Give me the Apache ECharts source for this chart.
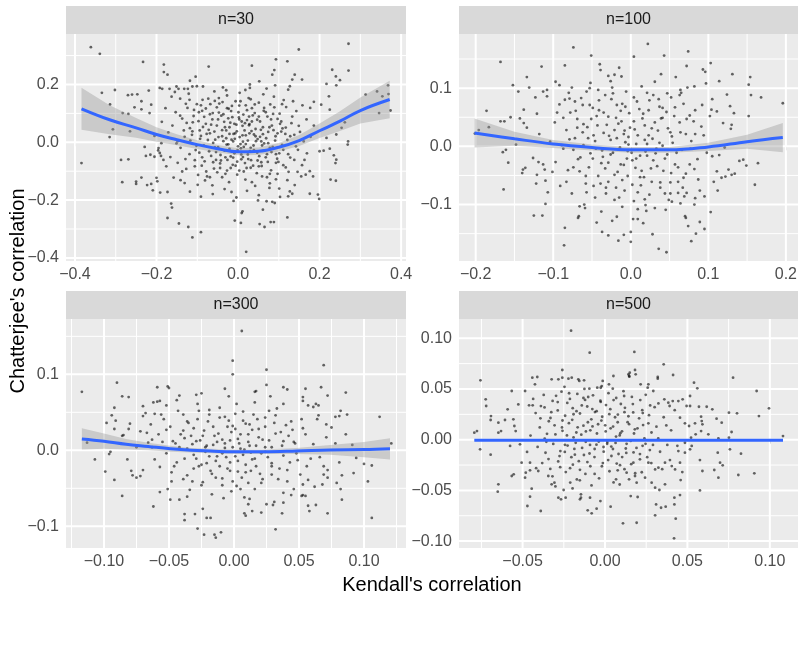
<!DOCTYPE html>
<html>
<head>
<meta charset="utf-8">
<script src="https://cdn.jsdelivr.net/npm/echarts@6/dist/echarts.min.js"></script>
<style>
html, body { margin: 0; padding: 0; background: #ffffff; }
#chart { width: 805px; height: 650px; }
</style>
</head>
<body>
<div id="chart"></div>
<script>
// facet titles
var facetNames = ['n=30', 'n=100', 'n=300', 'n=500'];

// points: [Kendall, Chatterjee]
var pts30 = [
  [-0.361,0.329],[-0.339,0.306],[-0.233,0.278],[-0.182,0.269],[-0.182,0.243],[-0.173,0.234],[-0.072,0.262],[-0.104,0.227],[-0.118,0.213],[-0.334,0.171],[-0.302,0.181],[-0.314,0.131],[-0.307,0.045],[-0.315,0.018],[-0.384,-0.072],[-0.287,-0.061],[-0.269,-0.059],[-0.284,-0.138],[-0.250,-0.136],[-0.250,-0.144],[-0.237,-0.122],[-0.223,-0.148],[-0.213,-0.144],[-0.209,-0.166],[-0.270,0.163],[-0.260,0.165],[-0.247,0.166],[-0.237,0.142],[-0.254,0.121],[-0.237,0.114],[-0.219,0.179],[-0.213,0.130],[-0.217,0.101],[-0.283,0.101],[-0.269,0.098],[-0.265,0.038],[-0.229,-0.016],[-0.226,-0.047],[-0.215,-0.043],[-0.205,-0.050],[-0.192,-0.037],[-0.189,-0.047],[-0.195,-0.020],[-0.188,-0.003],[-0.200,-0.123],[-0.198,-0.135],[-0.191,-0.174],[-0.173,-0.172],[-0.164,-0.212],[-0.162,-0.226],[-0.173,-0.262],[-0.145,-0.281],[-0.122,-0.293],[-0.112,-0.329],[-0.091,-0.311],[-0.192,0.188],[-0.186,0.185],[-0.168,0.185],[-0.151,0.193],[-0.146,0.185],[-0.155,0.174],[-0.132,0.185],[-0.123,0.185],[-0.112,0.193],[-0.101,0.194],[-0.086,0.193],[-0.037,0.190],[-0.029,0.180],
  [0.271,0.341],[0.149,0.321],[0.034,0.265],[0.093,0.287],[0.121,0.280],[0.089,0.250],[0.084,0.234],[0.231,0.251],[0.271,0.248],[0.240,0.228],[0.250,0.215],[0.241,0.197],[0.217,0.202],[0.139,0.234],[0.133,0.217],[0.157,0.217],[0.127,0.194],[0.123,0.182],[0.029,0.200],[0.029,0.188],[0.052,0.211],[0.070,0.186],[0.091,0.197],[0.313,0.165],[0.341,0.176],[0.354,0.159],[0.368,0.197],[0.369,0.167],[0.374,0.110],[0.346,0.101],[0.186,0.140],[0.204,0.130],[0.223,0.159],[0.225,0.113],[0.177,0.119],[0.262,0.069],[0.254,0.050],[0.241,0.027],[0.217,0.015],[0.270,0.003],[0.269,-0.008],[0.200,-0.031],[0.210,-0.029],[0.225,-0.022],[0.235,-0.045],[0.241,-0.060],[0.239,-0.072],[0.227,-0.129],[0.240,-0.133],[0.176,-0.178],[0.196,-0.181],[0.199,-0.196],[0.121,-0.260],[0.020,-0.379],[-0.008,-0.271],[0.007,-0.279],[0.011,-0.239],[0.009,-0.245],[0.053,-0.283],[0.065,-0.293],[0.080,-0.276],[0.088,-0.276],[0.061,-0.233],[0.084,-0.206],[0.090,-0.210],[0.070,-0.204],[0.049,-0.201],[0.127,-0.170],[0.123,-0.187],[0.133,-0.178],[0.101,-0.160],[0.176,-0.100],[0.184,-0.118],[0.155,-0.118],[0.166,-0.112],
  [-0.163,0.158],[-0.121,0.168],[-0.087,0.147],[-0.058,0.176],[-0.027,0.162],[0.004,0.171],[0.031,0.149],[0.062,0.166],[0.088,0.158],[0.112,0.146],[-0.142,0.151],[0.018,0.181],[-0.047,0.153],
  [-0.178,0.118],[-0.153,0.104],[-0.128,0.133],[-0.108,0.112],[-0.091,0.128],[-0.069,0.097],[-0.052,0.121],[-0.038,0.139],[-0.017,0.108],[0.003,0.127],[0.013,0.096],[0.034,0.118],[0.051,0.137],[0.063,0.109],[0.079,0.131],[0.102,0.099],[0.118,0.122],[0.143,0.108],[0.158,0.128],[-0.006,0.142],[0.041,0.101],[-0.079,0.117],
  [-0.187,0.071],[-0.161,0.058],[-0.137,0.082],[-0.118,0.049],[-0.097,0.073],[-0.083,0.088],[-0.066,0.061],[-0.049,0.079],[-0.032,0.052],[-0.019,0.068],[0.002,0.086],[0.011,0.057],[0.022,0.077],[0.043,0.046],[0.054,0.072],[0.072,0.089],[0.083,0.058],[0.097,0.081],[0.109,0.048],[0.131,0.066],[0.149,0.057],[0.168,0.079],[-0.041,0.092],[0.028,0.063],[-0.109,0.091],
  [-0.205,0.022],[-0.171,0.034],[-0.148,0.004],[-0.131,0.019],[-0.112,0.038],[-0.093,0.012],[-0.077,0.029],[-0.061,-0.002],[-0.048,0.018],[-0.029,0.041],[-0.016,0.009],[-0.007,0.031],[0.012,0.002],[0.019,0.024],[0.033,0.039],[0.048,0.011],[0.061,0.028],[0.074,-0.003],[0.092,0.021],[0.106,0.037],[0.121,0.008],[0.138,0.026],[0.161,0.003],[0.178,0.019],[0.039,0.027],[-0.072,0.043],
  [-0.196,-0.028],[-0.166,-0.051],[-0.141,-0.019],[-0.119,-0.041],[-0.102,-0.012],[-0.088,-0.052],[-0.071,-0.031],[-0.057,-0.018],[-0.043,-0.044],[-0.028,-0.008],[-0.012,-0.053],[-0.001,-0.027],[0.014,-0.016],[0.024,-0.042],[0.038,-0.011],[0.052,-0.048],[0.063,-0.029],[0.078,-0.019],[0.093,-0.041],[0.108,-0.009],[0.128,-0.053],[0.147,-0.026],[0.169,-0.038],[0.029,-0.031],[-0.021,-0.023],
  [-0.176,-0.083],[-0.148,-0.071],[-0.127,-0.092],[-0.106,-0.062],[-0.089,-0.081],[-0.078,-0.101],[-0.061,-0.069],[-0.044,-0.089],[-0.026,-0.061],[-0.013,-0.078],[0.003,-0.098],[0.017,-0.072],[0.031,-0.088],[0.048,-0.063],[0.058,-0.082],[0.081,-0.097],[0.099,-0.068],[0.117,-0.087],[0.138,-0.061],[0.157,-0.079],[0.008,-0.059],[-0.051,-0.104],
  [-0.158,-0.122],[-0.131,-0.141],[-0.098,-0.113],[-0.081,-0.132],[-0.063,-0.149],[-0.039,-0.121],[-0.022,-0.138],[-0.002,-0.112],[0.018,-0.129],[0.042,-0.151],[0.059,-0.118],[0.078,-0.142],[0.097,-0.109],[0.121,-0.131],[0.139,-0.148],[-0.031,-0.109],[0.046,-0.107],
  [-0.118,-0.171],[-0.091,-0.188],[-0.062,-0.179],[-0.033,-0.162],[-0.004,-0.191],[0.022,-0.168],[0.051,-0.183],[0.077,-0.158],[0.103,-0.189],[-0.011,-0.203],
  [-0.008,0.012],[0.006,-0.006],[-0.036,0.004],[0.057,0.003],[-0.054,-0.061],[0.027,0.089],[-0.023,0.116],[0.068,-0.052],[-0.094,0.041],[0.087,0.042],
  [-0.142,0.092],[-0.126,0.067],[-0.113,0.026],[-0.104,-0.027],[-0.096,0.104],[-0.086,0.053],[-0.082,-0.066],[-0.074,0.008],[-0.068,0.132],[-0.063,0.079],[-0.058,0.037],[-0.054,-0.034],[-0.047,0.103],[-0.044,-0.073],[-0.039,0.021],[-0.034,0.071],[-0.031,-0.052],[-0.027,0.118],[-0.024,-0.007],[-0.021,0.052],[-0.018,-0.089],[-0.014,0.087],[-0.011,0.029],[-0.009,-0.038],[-0.004,0.061],[-0.002,-0.067],[0.001,0.104],[0.004,0.018],[0.007,-0.021],[0.009,0.072],[0.012,-0.051],[0.016,0.041],[0.019,0.128],[0.021,-0.089],[0.024,0.006],[0.027,0.059],[0.032,-0.062],[0.036,0.093],[0.039,-0.027],[0.043,0.021],[0.047,0.078],[0.051,-0.083],[0.056,0.043],[0.059,-0.011],[0.064,0.119],[0.069,0.014],[0.073,-0.068],[0.077,0.052],[0.082,-0.034],[0.086,0.098],[0.091,0.006],[0.096,-0.057],[0.103,0.064],[0.111,-0.026],[0.116,0.029],[0.124,-0.102],[0.133,0.089],[0.142,-0.014],[-0.151,-0.004],[-0.137,-0.101],[-0.119,0.147],[-0.069,-0.121],[-0.016,-0.172],[0.034,-0.138],[0.071,-0.121],[0.108,0.132],[0.152,0.036],[-0.183,-0.061],[0.186,0.058],[-0.057,0.143],[0.026,0.153],[0.093,-0.128],[-0.099,-0.147],[0.163,-0.061],
  [-0.117,0.006],[-0.111,0.069],[-0.106,-0.083],[-0.101,0.132],[-0.095,-0.036],[-0.091,0.022],[-0.088,0.109],[-0.084,-0.011],[-0.079,0.064],[-0.076,-0.118],[-0.073,0.151],[-0.069,0.031],[-0.066,-0.047],[-0.062,0.101],[-0.059,-0.091],[-0.056,0.009],[-0.052,0.058],[-0.049,-0.017],[-0.046,0.134],[-0.042,-0.063],[-0.039,0.042],[-0.036,0.097],[-0.033,-0.029],[-0.029,0.014],[-0.027,-0.098],[-0.024,0.083],[-0.021,0.029],[-0.018,-0.049],[-0.015,0.126],[-0.012,0.003],[-0.009,0.064],[-0.006,-0.081],[-0.003,0.038],[0.000,-0.014],[0.003,0.079],[0.006,0.142],[0.008,-0.042],[0.011,0.024],[0.014,-0.101],[0.017,0.066],[0.019,-0.006],[0.022,0.111],[0.025,-0.058],[0.028,0.031],[0.031,-0.019],[0.034,0.072],[0.037,-0.081],[0.041,0.131],[0.044,0.004],[0.047,-0.036],[0.051,0.089],[0.054,0.019],[0.057,-0.069],[0.061,0.052],[0.064,-0.004],[0.068,0.104],[0.071,-0.041],[0.074,0.036],[0.078,-0.109],[0.081,0.079],[0.085,-0.016],[0.089,0.121],[0.093,-0.071],[0.097,0.031],[0.101,-0.038],[0.106,0.072],[0.111,-0.079],[0.117,0.051],[-0.129,-0.058],[-0.133,0.041],[-0.124,0.119],[0.123,-0.041],[0.128,0.021],[0.135,0.142],[-0.141,-0.131],[0.146,-0.102]
];

var pts100 = [
  [-0.168,0.145],[-0.115,0.137],[-0.074,0.170],[-0.051,0.156],[-0.085,0.139],[-0.134,0.119],[-0.152,0.105],[-0.145,0.094],[-0.131,0.101],[-0.186,0.061],[-0.168,0.043],[-0.163,0.043],[-0.155,0.050],[-0.183,0.033],[-0.196,0.028],[-0.201,0.022],[-0.143,0.048],[-0.138,0.040],[-0.134,0.032],[-0.138,0.063],[-0.123,0.084],[-0.121,0.056],[-0.161,-0.006],[-0.165,-0.010],[-0.158,-0.028],[-0.139,-0.040],[-0.140,-0.046],[-0.136,-0.037],[-0.164,-0.074],[-0.121,-0.049],[-0.122,-0.064],[-0.110,-0.059],[-0.111,-0.040],[-0.126,-0.020],[-0.119,-0.027],[-0.113,-0.031],[-0.110,-0.099],[-0.125,-0.119],[-0.114,-0.119],[-0.085,-0.140],[-0.086,-0.170],[-0.067,-0.120],[-0.068,-0.123],[-0.059,-0.106],[-0.060,-0.100],[-0.037,-0.147],[-0.029,-0.153],[-0.016,-0.162],[-0.009,-0.152],[-0.024,-0.128],[-0.113,0.094],[-0.108,0.086],[-0.108,0.097],[-0.097,0.111],[-0.092,0.105],[-0.040,0.141],[-0.039,0.131],[-0.015,0.135],[-0.021,0.123],[-0.026,0.112],[-0.012,0.120],[-0.053,0.100],[-0.057,0.094],[-0.042,0.097],[-0.080,0.092],[-0.072,0.077],[-0.085,0.080],
  [0.022,0.176],[0.043,0.156],[0.004,0.154],[0.074,0.163],[0.103,0.143],[0.072,0.138],[0.093,0.132],[0.096,0.128],[0.131,0.124],[0.154,0.119],[0.152,0.106],[0.155,0.088],[0.168,0.084],[0.196,0.074],[0.114,0.112],[0.097,0.108],[0.082,0.103],[0.064,0.097],[0.065,0.092],[0.105,0.081],[0.104,0.063],[0.111,0.060],[0.133,0.057],[0.128,0.069],[0.152,0.052],[0.119,0.040],[0.130,0.037],[0.129,0.030],[0.145,-0.023],[0.140,-0.025],[0.164,-0.029],[0.149,-0.033],[0.160,-0.066],[0.134,-0.047],[0.130,-0.049],[0.126,-0.040],[0.117,-0.054],[0.122,-0.052],[0.112,-0.076],[0.105,-0.017],[0.114,-0.015],[0.111,-0.043],[0.103,-0.113],[0.095,-0.086],[0.089,-0.130],[0.095,-0.142],[0.084,-0.150],[0.078,-0.163],[0.074,-0.137],[0.070,-0.120],[0.071,-0.123],[0.046,-0.182],[0.036,-0.176],[0.028,-0.151],[0.016,-0.132],[0.009,-0.125],[0.003,-0.125],[0.000,-0.147],[0.000,-0.164],[0.045,-0.109],[0.020,-0.111],[0.031,-0.106],[0.053,-0.095],[0.049,-0.092],[0.082,-0.100],[0.083,-0.089],[0.072,-0.080],[0.069,-0.086],[0.061,-0.080],
  [-0.092,0.072],[-0.078,0.058],[-0.064,0.083],[-0.049,0.066],[-0.033,0.088],[-0.018,0.071],[-0.006,0.094],[0.008,0.077],[0.021,0.092],[0.037,0.068],[0.052,0.084],[0.068,0.073],[0.083,0.062],[-0.041,0.079],[0.014,0.103],[-0.024,0.101],[0.031,0.111],[0.058,0.119],
  [-0.098,0.041],[-0.083,0.028],[-0.069,0.047],[-0.056,0.033],[-0.044,0.052],[-0.031,0.037],[-0.019,0.049],[-0.008,0.027],[0.004,0.043],[0.016,0.056],[0.027,0.031],[0.039,0.048],[0.051,0.024],[0.063,0.041],[0.076,0.053],[0.091,0.034],[-0.013,0.061],[0.046,0.059],[0.018,0.036],
  [-0.104,0.008],[-0.087,-0.004],[-0.072,0.014],[-0.061,0.002],[-0.048,0.019],[-0.037,-0.007],[-0.026,0.011],[-0.014,-0.002],[-0.003,0.016],[0.007,0.004],[0.019,-0.009],[0.028,0.013],[0.041,0.001],[0.053,0.017],[0.066,-0.006],[0.078,0.009],[0.094,0.019],[-0.052,-0.012],[0.033,-0.004],[-0.009,0.021],
  [-0.097,-0.027],[-0.081,-0.041],[-0.068,-0.022],[-0.054,-0.036],[-0.042,-0.051],[-0.029,-0.028],[-0.017,-0.044],[-0.005,-0.021],[0.006,-0.037],[0.017,-0.053],[0.029,-0.024],[0.042,-0.042],[0.057,-0.031],[0.071,-0.047],[0.086,-0.022],[-0.036,-0.018],[0.012,-0.016],[-0.011,-0.058],[0.047,-0.014],
  [-0.091,-0.068],[-0.076,-0.081],[-0.058,-0.064],[-0.046,-0.088],[-0.032,-0.071],[-0.021,-0.092],[-0.008,-0.076],[0.004,-0.094],[0.013,-0.067],[0.024,-0.083],[0.038,-0.071],[0.051,-0.062],[0.064,-0.098],[-0.066,-0.103],[-0.038,-0.112],[0.009,-0.108],[-0.018,-0.121],
  [-0.003,0.003],[0.001,-0.011],[-0.021,0.028],[0.023,0.019],[-0.062,0.024],[0.061,-0.061],[-0.029,-0.061],[0.036,0.081],[-0.076,0.101],[0.082,-0.039],
  [-0.079,0.012],[-0.071,0.061],[-0.066,-0.043],[-0.061,0.038],[-0.057,-0.079],[-0.053,0.071],[-0.049,-0.021],[-0.046,0.009],[-0.043,0.036],[-0.039,-0.064],[-0.035,0.058],[-0.033,-0.038],[-0.028,0.018],[-0.025,0.081],[-0.023,-0.011],[-0.019,-0.071],[-0.016,0.039],[-0.013,-0.031],[-0.011,0.073],[-0.007,0.007],[-0.004,-0.051],[-0.002,0.057],[0.002,-0.024],[0.005,0.029],[0.009,-0.079],[0.011,0.064],[0.014,-0.042],[0.018,0.011],[0.021,-0.016],[0.024,0.079],[0.027,-0.061],[0.031,0.041],[0.034,-0.034],[0.037,0.006],[0.041,0.066],[0.044,-0.081],[0.048,0.031],[0.052,-0.046],[0.056,0.052],[0.059,-0.011],[0.063,0.088],[0.067,-0.071],[0.071,0.021],[0.076,-0.031],[0.081,0.043],[0.087,-0.057],[0.092,0.071],[-0.087,0.049],[-0.083,-0.061],[-0.074,-0.006],[0.098,-0.011],[-0.101,-0.044],[0.073,0.101],[-0.052,0.109],[0.019,-0.101],[-0.029,0.121],[0.102,0.052],[-0.118,0.021],[0.121,-0.002],[-0.044,-0.131],
  [-0.069,0.032],[-0.065,-0.019],[-0.062,0.071],[-0.058,-0.051],[-0.055,0.014],[-0.051,0.047],[-0.048,-0.068],[-0.045,-0.004],[-0.041,0.062],[-0.038,-0.029],[-0.035,0.023],[-0.032,-0.081],[-0.029,0.051],[-0.026,-0.014],[-0.023,0.091],[-0.021,-0.049],[-0.018,0.014],[-0.015,-0.088],[-0.012,0.043],[-0.009,-0.032],[-0.007,0.068],[-0.004,-0.008],[-0.001,0.032],[0.002,-0.066],[0.004,0.084],[0.007,-0.021],[0.009,0.019],[0.012,-0.053],[0.015,0.048],[0.018,-0.091],[0.021,0.004],[0.023,0.062],[0.026,-0.038],[0.029,0.088],[0.032,-0.012],[0.035,0.027],[0.038,-0.062],[0.041,0.049],[0.044,-0.021],[0.047,0.091],[0.051,-0.081],[0.054,0.006],[0.057,0.067],[0.061,-0.036],[0.064,0.024],[0.068,-0.054],[0.072,0.047],[0.077,-0.004],[-0.074,-0.036],[-0.079,0.082],[0.083,0.021],[-0.089,0.002],[0.089,-0.076],[-0.095,0.058],[0.107,-0.061],[-0.107,-0.079],[0.039,0.124],[-0.011,-0.104],[-0.148,0.003],[0.124,0.089]
];

var pts300 = [
  [-0.117,0.077],[-0.090,0.089],[-0.086,0.071],[-0.081,0.070],[-0.059,0.083],[-0.051,0.084],[-0.050,0.082],[-0.042,0.072],[-0.025,0.075],[-0.007,0.081],[-0.001,0.118],[-0.001,0.100],[-0.092,0.056],[-0.094,0.046],[-0.091,0.039],[-0.098,0.036],[-0.092,0.028],[-0.080,0.035],[-0.081,0.028],[-0.085,0.020],[-0.086,0.019],[-0.113,0.010],[-0.107,-0.012],[-0.096,-0.005],[-0.095,-0.002],[-0.099,-0.028],[-0.092,-0.039],[-0.086,-0.060],[-0.079,-0.027],[-0.078,-0.033],[-0.072,-0.034],[-0.075,-0.036],[-0.070,-0.026],[-0.062,-0.074],[-0.057,-0.055],[-0.051,-0.051],[-0.049,-0.065],[-0.042,-0.065],[-0.038,-0.084],[-0.038,-0.092],[-0.030,-0.084],[-0.024,-0.077],[-0.021,-0.089],[-0.018,-0.089],[-0.028,-0.103],[-0.023,-0.111],[-0.015,-0.111],[-0.014,-0.115],[-0.010,-0.108],[-0.070,0.058],[-0.062,0.063],[-0.059,0.064],[-0.057,0.065],[-0.052,0.059],[-0.070,0.045],[-0.061,0.048],[-0.056,0.047],[-0.072,0.025],[-0.067,0.023],[-0.066,0.010],[-0.063,0.004],
  [0.006,0.157],[0.025,0.106],[0.069,0.112],[0.025,0.086],[0.016,0.077],[0.017,0.078],[0.038,0.083],[0.041,0.080],[0.055,0.081],[0.067,0.083],[0.072,0.072],[0.086,0.076],[0.053,0.070],[0.053,0.065],[0.057,0.059],[0.061,0.057],[0.063,0.061],[0.065,0.059],[0.065,0.046],[0.082,0.052],[0.081,0.045],[0.078,0.044],[0.087,0.047],[0.112,0.044],[0.086,0.021],[0.075,0.030],[0.071,0.017],[0.121,0.009],[0.106,-0.020],[0.100,-0.018],[0.103,-0.041],[0.092,-0.030],[0.094,-0.010],[0.081,-0.016],[0.083,-0.033],[0.079,-0.043],[0.082,-0.051],[0.083,-0.065],[0.072,-0.036],[0.072,-0.026],[0.069,-0.021],[0.068,-0.045],[0.072,-0.083],[0.106,-0.089],[0.063,-0.072],[0.057,-0.073],[0.058,-0.080],[0.055,-0.060],[0.053,-0.059],[0.032,-0.104],[0.009,-0.086],[0.008,-0.083],[0.014,-0.080],[0.021,-0.082],[0.025,-0.071],[0.030,-0.072],[0.031,-0.068],[0.037,-0.083],[0.038,-0.069],[0.038,-0.056],[0.044,-0.059],[0.052,-0.060],[0.053,-0.045],[0.057,-0.039],[0.062,-0.048],[-0.002,-0.054],[0.002,-0.047],[0.005,-0.051],[0.008,-0.062],[0.012,-0.064],
  [-0.054,0.041],[-0.043,0.052],[-0.036,0.038],[-0.028,0.061],[-0.019,0.047],[-0.011,0.056],[-0.004,0.039],[0.007,0.051],[0.016,0.063],[0.024,0.043],[0.033,0.055],[0.044,0.038],[-0.031,0.029],[0.012,0.034],
  [-0.058,0.021],[-0.047,0.012],[-0.039,0.026],[-0.032,0.008],[-0.024,0.019],[-0.016,0.031],[-0.009,0.014],[-0.002,0.024],[0.004,0.009],[0.011,0.021],[0.019,0.028],[0.027,0.013],[0.036,0.024],[0.046,0.011],[0.053,0.029],[-0.021,0.006],[0.031,0.036],
  [-0.052,-0.004],[-0.044,-0.016],[-0.036,0.002],[-0.029,-0.011],[-0.022,-0.002],[-0.014,-0.014],[-0.007,0.003],[0.001,-0.008],[0.008,0.001],[0.014,-0.012],[0.021,-0.004],[0.029,-0.017],[0.038,-0.007],[0.049,-0.013],[-0.011,-0.021],[0.017,0.006],[-0.026,0.013],
  [-0.048,-0.029],[-0.039,-0.038],[-0.031,-0.024],[-0.024,-0.042],[-0.017,-0.031],[-0.009,-0.046],[-0.003,-0.027],[0.006,-0.036],[0.013,-0.027],[0.021,-0.043],[0.029,-0.032],[0.041,-0.026],[-0.034,-0.052],[0.016,-0.051],[-0.017,-0.058],
  [-0.013,0.011],[-0.006,-0.009],[0.003,0.015],[0.009,-0.019],[-0.019,-0.008],[0.024,0.004],[-0.038,0.016],[0.042,0.019],[-0.001,0.032],[-0.027,-0.021],
  [-0.049,0.031],[-0.046,-0.021],[-0.042,0.004],[-0.039,0.047],[-0.036,-0.033],[-0.033,0.019],[-0.031,-0.006],[-0.028,0.041],[-0.025,-0.046],[-0.023,0.026],[-0.021,-0.017],[-0.019,0.053],[-0.016,0.007],[-0.014,-0.036],[-0.012,0.022],[-0.009,-0.004],[-0.007,0.044],[-0.005,-0.024],[-0.003,0.013],[-0.001,-0.041],[0.001,0.028],[0.003,-0.014],[0.005,0.002],[0.007,0.039],[0.009,-0.029],[0.011,0.011],[0.013,-0.003],[0.015,0.047],[0.017,-0.021],[0.019,0.017],[0.022,-0.038],[0.024,0.031],[0.026,-0.009],[0.029,0.004],[0.032,0.046],[0.035,-0.024],[0.038,0.012],[0.041,-0.041],[0.045,0.027],[0.048,-0.004],[0.052,0.041],[0.056,-0.021],[0.061,0.008],[-0.055,0.011],[-0.061,-0.012],[-0.064,0.034],[0.066,-0.009],[0.071,0.034],[-0.044,0.066],[0.028,0.071],[-0.008,-0.063],[0.046,-0.051],[-0.075,0.004],[0.091,0.007],[-0.029,0.073],[0.002,0.061],
  [-0.041,0.021],[-0.038,-0.011],[-0.035,0.036],[-0.032,-0.041],[-0.029,0.012],[-0.027,0.052],[-0.025,-0.019],[-0.022,0.004],[-0.020,0.038],[-0.018,-0.027],[-0.015,0.019],[-0.013,-0.008],[-0.011,0.043],[-0.009,-0.037],[-0.007,0.009],[-0.005,0.031],[-0.003,-0.016],[-0.001,0.004],[0.001,0.048],[0.003,-0.028],[0.005,0.021],[0.007,-0.006],[0.009,0.035],[0.011,-0.043],[0.012,0.006],[0.014,0.027],[0.016,-0.011],[0.018,0.041],[0.020,-0.031],[0.022,0.014],[0.024,-0.002],[0.027,0.052],[0.029,-0.021],[0.032,0.022],[0.034,-0.038],[0.037,0.006],[0.040,0.033],[0.043,-0.016],[0.047,0.009],[0.051,-0.032],[0.055,0.021],[0.059,-0.011],[-0.045,0.009],[-0.048,-0.041],[-0.052,0.027],[-0.057,-0.022],[-0.063,0.014],[0.064,0.041],[-0.068,0.049],[0.069,-0.032],[-0.004,0.071],[0.011,-0.071],[0.038,0.061],[-0.036,-0.061],[0.078,0.009],[-0.082,-0.012]
];

var pts500 = [
  [-0.0206,0.1075],[-0.0093,0.0858],[-0.0259,0.0687],[-0.0756,0.0585],[-0.0441,0.0611],[-0.0411,0.0618],[-0.0425,0.0546],[-0.0724,0.0398],[-0.0721,0.0332],[-0.0692,0.0233],[-0.0694,0.0194],[-0.0647,0.0168],[-0.0607,0.0194],[-0.0566,0.048],[-0.0526,0.0348],[-0.0591,0.0299],[-0.0485,0.048],[-0.0461,0.0339],[-0.0439,0.0339],[-0.0793,0.0069],[-0.0777,0.0085],[-0.0758,-0.0095],[-0.0694,-0.0148],[-0.0647,0.0069],[-0.0631,0.0085],[-0.0556,0.0201],[-0.0550,0.0135],[-0.0542,0.0085],[-0.0576,-0.0062],[-0.0516,-0.0046],[-0.0566,-0.0358],[-0.0554,-0.0342],[-0.0647,-0.0440],[-0.0651,-0.0513],[-0.0506,-0.0227],[-0.0455,-0.0227],[-0.0485,-0.0375],[-0.0481,-0.0325],[-0.0455,-0.0302],[-0.0445,-0.0483],[-0.0455,-0.0562],[-0.0471,-0.0654],[-0.0390,-0.0703],[-0.0405,-0.0309],[-0.0344,-0.0358],[-0.0324,-0.0440],[-0.0307,-0.0424],[-0.0267,-0.0588],[-0.0283,-0.0572],[-0.0239,-0.0572],[-0.0251,-0.0496],[-0.0146,-0.0539],[-0.0146,-0.0572],[-0.0091,-0.0572],[-0.0152,-0.0588],[-0.0105,-0.0697],[-0.0081,-0.0726],[-0.0051,-0.0680],[-0.0028,-0.0605],[0.0034,-0.0661],[0.0109,-0.0825],[-0.0324,0.0595],[-0.0283,0.0595],[-0.0259,0.0611],[-0.0222,0.0602],[-0.0202,0.0611],[-0.0162,0.0595],[-0.0156,0.0579],[-0.0127,0.0585],[-0.0095,0.0503],[-0.0047,0.0513],[-0.0020,0.0529],[-0.0014,0.0579],[0.0024,0.0546],[0.0051,0.0628],[0.0142,0.0644],[0.0148,0.0621],
  [0.0178,0.0865],[0.0356,0.0743],[0.0413,0.0638],[0.0146,0.0628],[0.0150,0.0661],[0.0182,0.0687],[0.0186,0.0644],[0.0320,0.0618],[0.0320,0.0602],[0.0777,0.0611],[0.0920,0.0480],[0.0540,0.0562],[0.0560,0.0506],[0.0216,0.0546],[0.0263,0.0546],[0.0259,0.0513],[0.0293,0.0480],[0.0516,0.0431],[0.0471,0.0398],[0.0445,0.0381],[0.0411,0.0381],[0.0384,0.0365],[0.0360,0.0398],[0.0324,0.0358],[0.0570,0.0325],[0.0617,0.0325],[0.0651,0.0299],[0.0516,0.0332],[0.0495,0.0332],[0.0995,0.0309],[0.0934,0.0233],[0.0752,0.0266],[0.0801,0.0260],[0.0677,0.0207],[0.0708,0.0168],[0.0768,0.0076],[0.0752,0.0020],[0.0583,0.0227],[0.0587,0.0184],[0.0591,0.0151],[0.0546,0.0161],[0.0510,0.0135],[0.0485,0.0161],[0.0455,0.0217],[0.0583,0.0085],[0.0627,0.0053],[0.0688,0.0013],[0.0550,0.0053],[0.0522,0.0020],[0.0485,-0.0030],[0.1080,0.0036],[0.0758,-0.0095],[0.0825,-0.0138],[0.0684,-0.0128],[0.0698,-0.0227],[0.0714,-0.0253],[0.0591,-0.0309],[0.0576,-0.0201],[0.0663,-0.0299],[0.0688,-0.0375],[0.0809,-0.0348],[0.0906,-0.0332],[0.0576,-0.0500],[0.0459,-0.0398],[0.0469,-0.0319],[0.0425,-0.0293],[0.0405,-0.0260],[0.0455,-0.0227],[0.0445,-0.0112],[0.0485,-0.0128],[0.0516,-0.0095],[0.0526,-0.0062],[0.0455,-0.0546],[0.0421,-0.0572],[0.0421,-0.0638],[0.0368,-0.0661],[0.0340,-0.0671],[0.0310,-0.0638],[0.0304,-0.0746],[0.0429,-0.0779],[0.0419,-0.0973],[0.0192,-0.0819],[0.0156,-0.0556],[0.0198,-0.0565],[0.0364,-0.0440],[0.0330,-0.0496],[0.0304,-0.0473],[0.0283,-0.0424],[0.0243,-0.0375],[0.0192,-0.0424],[0.0182,-0.0358],[0.0146,-0.0391],[0.0131,-0.0325],[0.0394,-0.0201],[0.0364,-0.0227],[0.0324,-0.0276],[0.0304,-0.0293],[0.0263,-0.0227],[0.0212,-0.0194],[0.0172,-0.0227],
  [-0.0372,0.0441],[-0.0318,0.0382],[-0.0264,0.0473],[-0.0213,0.0402],[-0.0168,0.0451],[-0.0121,0.0392],[-0.0073,0.0437],[-0.0028,0.0384],[0.0021,0.0459],[0.0068,0.0411],[0.0112,0.0478],[0.0163,0.0422],[0.0214,0.0391],[-0.0246,0.0521],[0.0047,0.0503],
  [-0.0421,0.0262],[-0.0367,0.0318],[-0.0331,0.0214],[-0.0287,0.0289],[-0.0242,0.0236],[-0.0196,0.0311],[-0.0152,0.0258],[-0.0108,0.0327],[-0.0061,0.0272],[-0.0017,0.0226],[0.0032,0.0301],[0.0078,0.0248],[0.0121,0.0314],[0.0171,0.0269],[0.0226,0.0291],[0.0267,0.0242],[-0.0083,0.0201],[0.0096,0.0352],
  [-0.0396,0.0121],[-0.0352,0.0058],[-0.0306,0.0142],[-0.0258,0.0087],[-0.0219,0.0163],[-0.0174,0.0071],[-0.0131,0.0138],[-0.0089,0.0092],[-0.0042,0.0152],[0.0004,0.0081],[0.0049,0.0129],[0.0093,0.0064],[0.0137,0.0173],[0.0181,0.0102],[0.0231,0.0144],[0.0282,0.0071],[-0.0191,0.0022],[0.0067,0.0031],
  [-0.0409,-0.0071],[-0.0361,-0.0129],[-0.0314,-0.0042],[-0.0271,-0.0112],[-0.0227,-0.0058],[-0.0183,-0.0148],[-0.0139,-0.0081],[-0.0094,-0.0136],[-0.0052,-0.0049],[-0.0008,-0.0118],[0.0038,-0.0068],[0.0082,-0.0141],[0.0126,-0.0087],[0.0173,-0.0126],[0.0228,-0.0061],[0.0272,-0.0102],[-0.0117,-0.0021],[0.0014,-0.0023],
  [-0.0381,-0.0231],[-0.0332,-0.0288],[-0.0284,-0.0214],[-0.0238,-0.0319],[-0.0195,-0.0246],[-0.0152,-0.0297],[-0.0107,-0.0221],[-0.0063,-0.0338],[-0.0019,-0.0262],[0.0027,-0.0311],[0.0071,-0.0236],[0.0118,-0.0291],[-0.0171,-0.0392],[0.0052,-0.0421],[-0.0082,-0.0451],[-0.0211,-0.0423],
  [-0.0389,0.0331],[-0.0356,-0.0021],[-0.0341,0.0182],[-0.0319,-0.0361],[-0.0297,0.0432],[-0.0276,-0.0162],[-0.0261,0.0121],[-0.0243,-0.0051],[-0.0229,0.0362],[-0.0212,-0.0281],[-0.0199,0.0196],[-0.0186,-0.0091],[-0.0173,0.0281],[-0.0159,-0.0212],[-0.0144,0.0049],[-0.0131,0.0411],[-0.0119,-0.0338],[-0.0104,0.0172],[-0.0091,-0.0052],[-0.0077,0.0302],[-0.0064,-0.0171],[-0.0049,0.0061],[-0.0036,-0.0381],[-0.0022,0.0188],[-0.0009,-0.0072],[0.0006,0.0341],[0.0019,-0.0201],[0.0034,0.0112],[0.0048,-0.0092],[0.0061,0.0221],[0.0077,-0.0302],[0.0089,0.0042],[0.0104,-0.0171],[0.0118,0.0271],[0.0131,-0.0041],[0.0146,0.0153],[0.0159,-0.0241],[0.0176,0.0061],[0.0191,-0.0081],[0.0207,0.0211],[0.0223,-0.0321],[0.0239,0.0012],[0.0256,-0.0172],[0.0274,0.0338],[0.0291,-0.0052],[0.0312,0.0128],[0.0334,-0.0119],[0.0356,0.0221],[0.0378,-0.0052],[0.0401,0.0092],[-0.0452,0.0041],[-0.0473,-0.0121],[-0.0436,0.0402],[0.0423,0.0291],[-0.0125,0.0501],[0.0089,-0.0442],[-0.0301,-0.0461],[0.0247,0.0442],
  [-0.0301,0.0052],[-0.0287,0.0371],[-0.0272,-0.0271],[-0.0258,0.0189],[-0.0244,-0.0121],[-0.0231,0.0042],[-0.0218,0.0458],[-0.0204,-0.0172],[-0.0191,0.0251],[-0.0178,-0.0031],[-0.0166,0.0122],[-0.0153,-0.0401],[-0.0141,0.0338],[-0.0128,-0.0151],[-0.0116,0.0081],[-0.0102,0.0421],[-0.0089,-0.0262],[-0.0076,0.0131],[-0.0063,-0.0092],[-0.0051,0.0281],[-0.0038,-0.0018],[-0.0026,0.0372],[-0.0013,-0.0231],[0.0001,0.0142],[0.0013,-0.0041],[0.0026,0.0252],[0.0039,-0.0161],[0.0052,0.0391],[0.0064,-0.0032],[0.0077,0.0172],[0.0091,-0.0251],[0.0103,0.0082],[0.0116,0.0431],[0.0129,-0.0131],[0.0142,0.0231],[0.0156,-0.0012],[0.0169,0.0351],[0.0183,-0.0331],[0.0197,0.0112],[0.0212,-0.0142],[0.0229,0.0262],[0.0246,-0.0041],[0.0263,0.0161],[0.0281,-0.0231],[0.0301,0.0321],[0.0323,0.0012],[0.0347,-0.0291],[0.0372,0.0141],[-0.0326,0.0271],[-0.0343,-0.0191],[-0.0366,0.0009],[-0.0392,0.0211],[0.0392,0.0332],[-0.0418,-0.0281],[0.0439,-0.0061],[-0.0026,0.0512],[0.0067,-0.0391],[-0.0197,-0.0481]
];

// loess fit and its band
var fitX30  = [-0.384,-0.315,-0.25,-0.2,-0.15,-0.1,-0.05,0,0.05,0.1,0.15,0.2,0.25,0.3,0.372];
var fitY30  = [0.116,0.078,0.050,0.027,0.009,-0.008,-0.022,-0.033,-0.031,-0.017,0.006,0.040,0.073,0.110,0.148];
var fitLo30 = [0.043,0.028,0.016,0.002,-0.010,-0.023,-0.035,-0.045,-0.044,-0.032,-0.013,0.015,0.039,0.065,0.083];
var fitHi30 = [0.189,0.128,0.084,0.052,0.028,0.007,-0.009,-0.021,-0.018,-0.002,0.025,0.065,0.107,0.155,0.213];

var fitX100  = [-0.2015,-0.15,-0.1,-0.05,0,0.05,0.1,0.15,0.196];
var fitY100  = [0.023,0.013,0.004,-0.002,-0.006,-0.006,-0.001,0.008,0.015];
var fitLo100 = [-0.002,0.001,-0.003,-0.007,-0.011,-0.011,-0.008,-0.004,-0.010];
var fitHi100 = [0.048,0.025,0.011,0.003,-0.001,-0.001,0.006,0.020,0.040];

var fitX300  = [-0.117,-0.1,-0.083,-0.066,-0.049,-0.033,-0.018,0,0.023,0.048,0.074,0.1,0.12];
var fitY300  = [0.015,0.012,0.008,0.005,0.002,0.000,-0.001,-0.002,-0.002,-0.001,0.0005,0.001,0.002];
var fitLo300 = [0.001,0.002,0.001,0.000,-0.002,-0.003,-0.004,-0.005,-0.005,-0.005,-0.006,-0.009,-0.012];
var fitHi300 = [0.029,0.022,0.015,0.010,0.006,0.003,0.002,0.001,0.001,0.003,0.007,0.011,0.016];

var fitX500  = [-0.0793,-0.04,0,0.04,0.08,0.108];
var fitY500  = [-0.0006,-0.0006,-0.0006,-0.0006,-0.0006,-0.0006];
var fitLo500 = [-0.0011,-0.0009,-0.0008,-0.0008,-0.0009,-0.0011];
var fitHi500 = [-0.0001,-0.0003,-0.0004,-0.0004,-0.0003,-0.0001];

// tick labels (major) and minor grid positions
var xTicks30 = [-0.4,-0.2,0,0.2,0.4],        yTicks30 = [-0.4,-0.2,0,0.2];
var xMinor30 = [-0.3,-0.1,0.1,0.3],          yMinor30 = [-0.3,-0.1,0.1,0.3];
var xTicks100 = [-0.2,-0.1,0,0.1,0.2],       yTicks100 = [-0.1,0,0.1];
var xMinor100 = [-0.15,-0.05,0.05,0.15],     yMinor100 = [-0.15,-0.05,0.05,0.15];
var xTicks300 = [-0.1,-0.05,0,0.05,0.1],     yTicks300 = [-0.1,0,0.1];
var xMinor300 = [-0.125,-0.075,-0.025,0.025,0.075,0.125], yMinor300 = [-0.05,0.05,0.15];
var xTicks500 = [-0.05,0,0.05,0.1],          yTicks500 = [-0.1,-0.05,0,0.05,0.1];
var xMinor500 = [-0.075,-0.025,0.025,0.075], yMinor500 = [-0.075,-0.025,0.025,0.075];

var FONT = '"Liberation Sans", Arial, sans-serif';

var panels = [
  {pts: pts30,  fx: fitX30,  fy: fitY30,  lo: fitLo30,  hi: fitHi30,  xt: xTicks30,  yt: yTicks30,  xm: xMinor30,  ym: yMinor30,
   xr: [-0.422, 0.412], yr: [-0.4107, 0.3747], xd: 1, yd: 1, box: [66, 34, 340, 227]},
  {pts: pts100, fx: fitX100, fy: fitY100, lo: fitLo100, hi: fitHi100, xt: xTicks100, yt: yTicks100, xm: xMinor100, ym: yMinor100,
   xr: [-0.2215, 0.2156], yr: [-0.197, 0.193], xd: 1, yd: 1, box: [459, 34, 339, 227]},
  {pts: pts300, fx: fitX300, fy: fitY300, lo: fitLo300, hi: fitHi300, xt: xTicks300, yt: yTicks300, xm: xMinor300, ym: yMinor300,
   xr: [-0.1292, 0.1323], yr: [-0.1286, 0.1728], xd: 2, yd: 1, box: [66, 319, 340, 229]},
  {pts: pts500, fx: fitX500, fy: fitY500, lo: fitLo500, hi: fitHi500, xt: xTicks500, yt: yTicks500, xm: xMinor500, ym: yMinor500,
   xr: [-0.0886, 0.1171], yr: [-0.1068, 0.119], xd: 2, yd: 2, box: [459, 319, 339, 229]}
];

function fmt(v, d) {
    var s = Math.abs(v).toFixed(d);
    return (v < -1e-9 ? '\u2212' : '') + s;
}

function zip(a, b) {
    return a.map(function (x, k) { return [x, b[k]]; });
}

// white panel grid: minor lines 1px, major lines 2px, placed through the axes
function gridRenderer(p) {
    return function (params, api) {
        var kids = [];
        function vline(v, w) {
            var a = api.coord([v, p.yr[0]]), b = api.coord([v, p.yr[1]]);
            kids.push({ type: 'line', shape: { x1: a[0], y1: a[1], x2: b[0], y2: b[1] }, style: { stroke: '#ffffff', lineWidth: w } });
        }
        function hline(v, w) {
            var a = api.coord([p.xr[0], v]), b = api.coord([p.xr[1], v]);
            kids.push({ type: 'line', shape: { x1: a[0], y1: a[1], x2: b[0], y2: b[1] }, style: { stroke: '#ffffff', lineWidth: w } });
        }
        p.xm.forEach(function (v) { vline(v, 1); });
        p.ym.forEach(function (v) { hline(v, 1); });
        p.xt.forEach(function (v) { vline(v, 2); });
        p.yt.forEach(function (v) { hline(v, 2); });
        return { type: 'group', silent: true, children: kids };
    };
}

// band polygon: upper edge left->right, lower edge right->left
function bandRenderer(p) {
    return function (params, api) {
        var poly = [];
        for (var k = 0; k < p.fx.length; k++) poly.push(api.coord([p.fx[k], p.hi[k]]));
        for (var k = p.fx.length - 1; k >= 0; k--) poly.push(api.coord([p.fx[k], p.lo[k]]));
        return {
            type: 'polygon', silent: true,
            shape: { points: poly },
            style: { fill: 'rgba(153,153,153,0.4)' }
        };
    };
}

var grids = [], xAxes = [], yAxes = [], series = [], graphics = [];

panels.forEach(function (p, i) {
    grids.push({
        left: p.box[0], top: p.box[1], width: p.box[2], height: p.box[3],
        show: true, backgroundColor: '#EBEBEB', borderWidth: 0
    });
    xAxes.push({
        type: 'value', gridIndex: i, min: p.xr[0], max: p.xr[1],
        axisLine: { show: false },
        splitLine: { show: false },
        axisTick: { show: true, customValues: p.xt, length: 4, lineStyle: { color: '#333333', width: 1 } },
        axisLabel: {
            customValues: p.xt, margin: 6, color: '#4D4D4D', fontSize: 16, fontFamily: FONT,
            formatter: (function (d) { return function (v) { return fmt(v, d); }; })(p.xd)
        }
    });
    yAxes.push({
        type: 'value', gridIndex: i, min: p.yr[0], max: p.yr[1],
        axisLine: { show: false },
        splitLine: { show: false },
        axisTick: { show: true, customValues: p.yt, length: 4, lineStyle: { color: '#333333', width: 1 } },
        axisLabel: {
            customValues: p.yt, margin: 7, color: '#4D4D4D', fontSize: 16, fontFamily: FONT,
            formatter: (function (d) { return function (v) { return fmt(v, d); }; })(p.yd)
        }
    });

    series.push({
        type: 'custom', xAxisIndex: i, yAxisIndex: i, data: [[p.xr[0], p.yr[0]]],
        renderItem: gridRenderer(p), silent: true, z: 1
    });

    series.push({
        type: 'scatter', xAxisIndex: i, yAxisIndex: i, data: p.pts, z: 2, silent: true,
        symbolSize: 2.8,
        itemStyle: { color: 'rgba(0,0,0,0.74)' }
    });

    series.push({
        type: 'custom', xAxisIndex: i, yAxisIndex: i, data: [[p.fx[0], p.fy[0]]],
        renderItem: bandRenderer(p), silent: true, z: 3
    });

    series.push({
        type: 'line', xAxisIndex: i, yAxisIndex: i, data: zip(p.fx, p.fy),
        symbol: 'none', smooth: 0.4, silent: true, z: 4,
        lineStyle: { color: '#3366FF', width: 3 }
    });

    // facet strip
    graphics.push({
        type: 'rect', silent: true,
        shape: { x: p.box[0], y: p.box[1] - 28, width: p.box[2], height: 28 },
        style: { fill: '#D9D9D9' }
    });
    graphics.push({
        type: 'text', silent: true,
        x: p.box[0] + p.box[2] / 2, y: p.box[1] - 14,
        style: { text: facetNames[i], fill: '#1A1A1A', font: '16px ' + FONT, align: 'center', verticalAlign: 'middle' }
    });
});

graphics.push({
    type: 'text', silent: true, x: 432, y: 585,
    style: { text: "Kendall's correlation", fill: '#000000', font: '20px ' + FONT, align: 'center', verticalAlign: 'middle' }
});
graphics.push({
    type: 'text', silent: true, x: 18, y: 291, rotation: Math.PI / 2,
    style: { text: "Chatterjee's correlation", fill: '#000000', font: '20px ' + FONT, align: 'center', verticalAlign: 'middle' }
});

var myChart = echarts.init(document.getElementById('chart'));
myChart.setOption({
    backgroundColor: '#ffffff',
    animation: false,
    grid: grids,
    xAxis: xAxes,
    yAxis: yAxes,
    series: series,
    graphic: graphics
});
</script>
</body>
</html>
